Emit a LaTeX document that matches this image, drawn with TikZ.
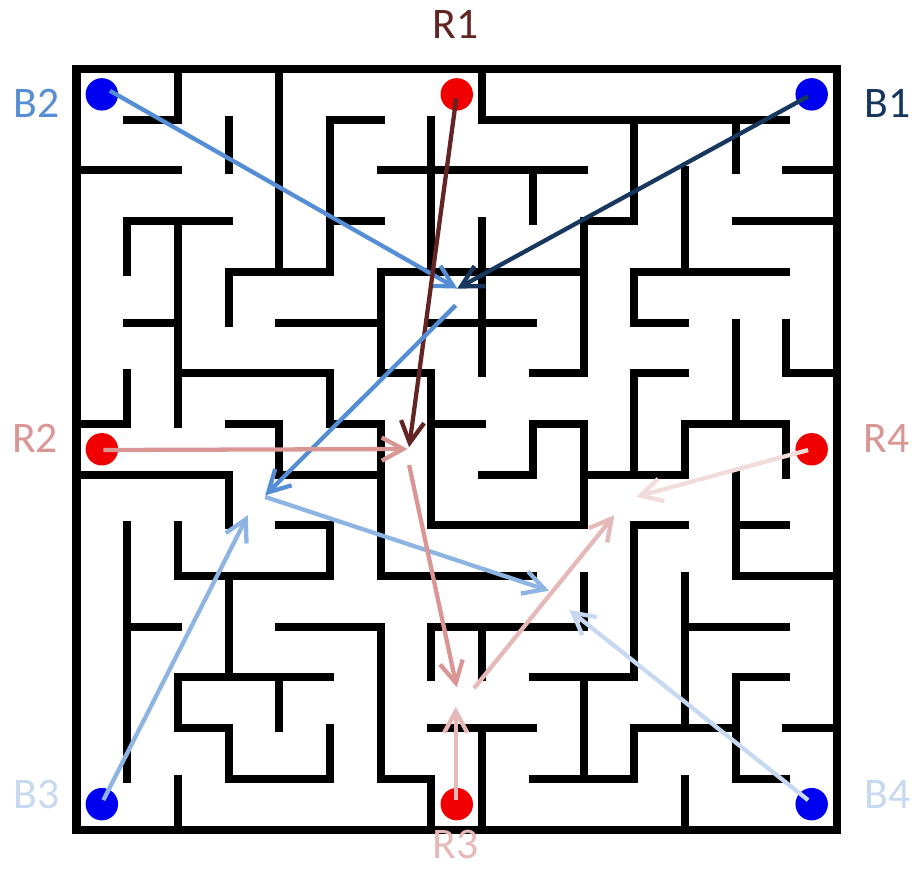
\documentclass[tikz,border=0pt]{standalone}
\usepackage{fontspec}
\setmainfont{Carlito}
\usetikzlibrary{arrows.meta}
\definecolor{cRone}{HTML}{632523}
\definecolor{cRtwo}{HTML}{D99694}
\definecolor{cRthree}{HTML}{E6B9B8}
\definecolor{cRfour}{HTML}{F2DCDB}
\definecolor{cBone}{HTML}{17375E}
\definecolor{cBtwo}{HTML}{558ED5}
\definecolor{cBthree}{HTML}{8EB4E3}
\definecolor{cBfour}{HTML}{C6D9F1}
\definecolor{dotblue}{HTML}{0000F0}
\definecolor{dotred}{HTML}{F00000}
\begin{document}
\begin{tikzpicture}[x=1cm,y=-1cm,
  wall/.style={line width=4.5pt, line cap=rect, black},
  dotnode/.style={circle, inner sep=0pt, minimum size=0.64cm},
  arr/.style={line width=2.4pt, -{Straight Barb[length=12pt,width=13pt]}},
  lab/.style={font=\fontsize{24.5}{29}\selectfont, anchor=base, inner sep=0pt}]
\useasboundingbox (-1.509,-1.361) rectangle (16.479,15.937);
% outer border
\draw[wall, line join=miter] (0,0) rectangle (15,15);
% horizontal walls: j / i1 / i2
\foreach \j/\a/\b in {1/1/2, 1/5/6, 1/8/14,
  2/0/2, 2/6/10, 2/14/15,
  3/1/3, 3/5/6, 3/10/11, 3/13/15,
  4/3/5, 4/6/10, 4/11/14,
  5/1/2, 5/4/6, 5/7/9, 5/11/12,
  6/2/5, 6/6/7, 6/9/10, 6/11/12, 6/14/15,
  7/0/1, 7/3/4, 7/5/6, 7/7/8, 7/9/10, 7/12/14,
  8/0/3, 8/4/6, 8/8/9, 8/10/12,
  9/4/5, 9/7/10, 9/11/12, 9/13/14,
  10/2/5, 10/6/9, 10/13/15,
  11/1/2, 11/4/6, 11/7/10, 11/12/14,
  12/2/5, 12/9/11, 12/13/14,
  13/2/3, 13/7/9, 13/11/13, 13/14/15,
  14/3/5, 14/6/7, 14/9/11, 14/13/14}
  \draw[wall] (\a,\j) -- (\b,\j);
% vertical walls: i / j1 / j2
\foreach \i/\a/\b in {1/3/4, 1/6/7, 1/9/14,
  2/0/1, 2/3/7, 2/9/10, 2/12/13, 2/14/15,
  3/1/2, 3/4/5, 3/8/9, 3/10/12, 3/13/14,
  4/0/4, 4/7/8, 4/12/13,
  5/1/4, 5/6/7, 5/9/10, 5/13/14,
  6/4/6, 6/7/10, 6/11/14,
  7/1/4, 7/6/9, 7/11/12, 7/14/15,
  8/0/1, 8/3/6, 8/11/12, 8/13/15,
  9/2/3, 9/7/8,
  10/3/6, 10/7/9, 10/10/11, 10/12/14,
  11/1/3, 11/4/5, 11/6/8, 11/9/12, 11/13/14,
  12/2/4, 12/7/8, 12/10/13, 12/14/15,
  13/1/2, 13/5/7, 13/8/10, 13/12/14,
  14/5/6, 14/7/8}
  \draw[wall] (\i,\a) -- (\i,\b);
% agents
\node[dotnode, fill=dotblue] (b2) at (0.5,0.5) {};
\node[dotnode, fill=dotred] (r1) at (7.5,0.5) {};
\node[dotnode, fill=dotblue] (b1) at (14.5,0.5) {};
\node[dotnode, fill=dotred] (r2) at (0.5,7.5) {};
\node[dotnode, fill=dotred] (r4) at (14.5,7.5) {};
\node[dotnode, fill=dotblue] (b3) at (0.5,14.5) {};
\node[dotnode, fill=dotred] (r3) at (7.5,14.5) {};
\node[dotnode, fill=dotblue] (b4) at (14.5,14.5) {};
% labels
\node[lab, text=cBtwo] (lb2) at (-0.79,0.966) {B2};
\node[lab, text=cBone] (lb1) at (15.99,0.966) {B1};
\node[lab, text=cRone] (lr1) at (7.47,-0.61) {R1};
\node[lab, text=cRtwo] (lr2) at (-0.82,7.57) {R2};
\node[lab, text=cRtwo] (lr4) at (15.98,7.57) {R4};
\node[lab, text=cBfour] (lb3) at (-0.79,14.58) {B3};
\node[lab, text=cBfour] (lb4) at (15.99,14.58) {B4};
\node[lab, text=cRthree] (lr3) at (7.47,15.58) {R3};
% arrow end points
\coordinate (sb2) at (0.66,0.43);
\coordinate (t1) at (7.51,4.33);
\coordinate (sb1) at (14.43,0.54);
\coordinate (sr1) at (7.49,0.58);
\coordinate (tr1) at (6.56,7.46);
\coordinate (s2) at (7.48,4.66);
\coordinate (t2) at (3.72,8.41);
\coordinate (s3) at (3.72,8.44);
\coordinate (t3) at (9.32,10.29);
\coordinate (sb3) at (0.53,14.42);
\coordinate (tb3) at (3.38,8.80);
\coordinate (sb4) at (14.43,14.42);
\coordinate (tb4) at (9.72,10.67);
\coordinate (sr2) at (0.53,7.515);
\coordinate (tr2) at (6.53,7.495);
\coordinate (s4) at (6.56,7.81);
\coordinate (t4) at (7.50,12.195);
\coordinate (sr3) at (7.48,14.42);
\coordinate (tr3) at (7.48,12.58);
\coordinate (s5) at (7.84,12.215);
\coordinate (t5) at (10.61,8.80);
\coordinate (sr4) at (14.43,7.515);
\coordinate (tr4) at (11.04,8.436);
% arrows
\draw[arr, cBtwo] (sb2) -- (t1);
\draw[arr, cBone] (sb1) -- (t1);
\draw[arr, cRone] (sr1) -- (tr1);
\draw[arr, cBtwo] (s2) -- (t2);
\draw[arr, cBthree] (s3) -- (t3);
\draw[arr, cBthree] (sb3) -- (tb3);
\draw[arr, cBfour] (sb4) -- (tb4);
\draw[arr, cRtwo] (sr2) -- (tr2);
\draw[arr, cRtwo] (s4) -- (t4);
\draw[arr, cRthree] (sr3) -- (tr3);
\draw[arr, cRthree] (s5) -- (t5);
\draw[arr, cRfour] (sr4) -- (tr4);
\end{tikzpicture}
\end{document}
